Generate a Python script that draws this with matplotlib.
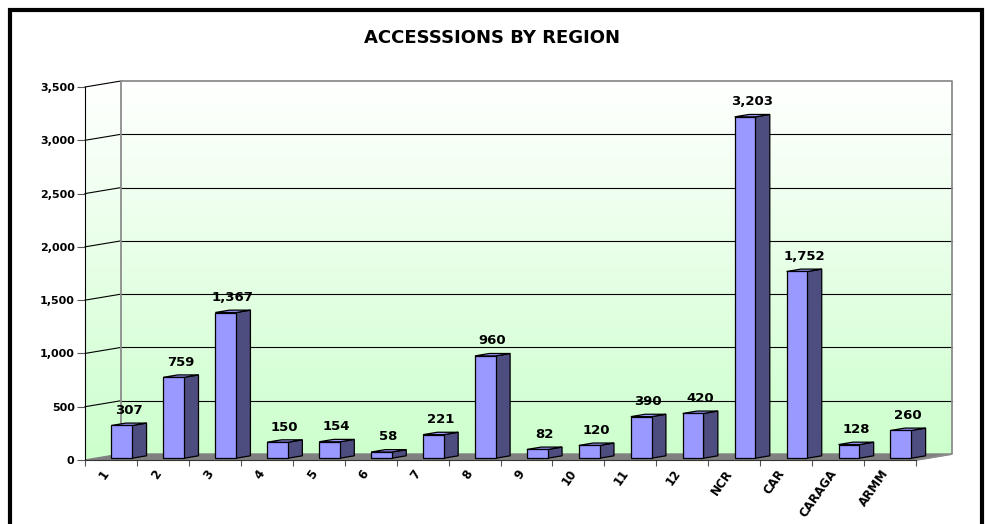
import matplotlib
matplotlib.use('Agg')  # no display

import matplotlib.pyplot as plt
import numpy as np
from matplotlib.patches import Polygon, Rectangle
from matplotlib.colors import LinearSegmentedColormap

# data
regions = ['1', '2', '3', '4', '5', '6', '7', '8', '9', '10', '11', '12',
           'NCR', 'CAR', 'CARAGA', 'ARMM']
accessions = [307, 759, 1367, 150, 154, 58, 221, 960, 82, 120, 390, 420,
              3203, 1752, 128, 260]
y_ticks = [0, 500, 1000, 1500, 2000, 2500, 3000, 3500]

W, H = 985, 524
fig = plt.figure(figsize=(W / 100, H / 100), dpi=100)

# axes box = front plane of the 3d chart
ax = fig.add_axes([85 / W, 64 / H, 831 / W, 373 / H])
n = len(regions)
ymax = y_ticks[-1]

# depth of the box in data units (about 36 px right, 6 px up)
dx = 36 / 831 * n
dy = 6 / 373 * ymax

# walls with white -> light green gradient
wall = Polygon([(0, 0), (dx, dy), (n + dx, dy), (n + dx, ymax + dy),
                (dx, ymax + dy), (0, ymax)], closed=True,
               facecolor='none', edgecolor='none', transform=ax.transData)
ax.add_patch(wall)
cmap = LinearSegmentedColormap.from_list('wall', ['#ccffcc', '#ffffff'])
grad = np.linspace(0, 1, 256).reshape(-1, 1)
im = ax.imshow(grad, cmap=cmap, origin='lower', aspect='auto',
               extent=[0, n + dx, 0, ymax + dy], zorder=0,
               interpolation='bilinear')
im.set_clip_path(wall)
im.set_clip_box(fig.bbox)

# floor
floor = Polygon([(0, 0), (n, 0), (n + dx, dy), (dx, dy)], closed=True,
                facecolor='#808080', edgecolor='#808080', lw=1,
                zorder=1, clip_on=False)
ax.add_patch(floor)

# gridlines on side and back wall
for v in y_ticks[1:]:
    ax.plot([0, dx], [v, v + dy], color='black', lw=0.8, zorder=1,
            clip_on=False)
    if v < ymax:
        ax.plot([dx, n + dx], [v + dy, v + dy], color='black', lw=0.8,
                zorder=1, clip_on=False)

# back wall outline
ax.plot([dx, dx, n + dx, n + dx, n], [dy, ymax + dy, ymax + dy, dy, 0],
        color='#8c8c8c', lw=1.3, zorder=1, clip_on=False)

# bars as 3d boxes
bw = 0.4
d0, d1 = 0.3, 0.7
bdx = (d1 - d0) * dx
bdy = (d1 - d0) * dy
for i, v in enumerate(accessions):
    x0 = i + 0.5 - bw / 2 + d0 * dx
    x1 = x0 + bw
    y0 = d0 * dy
    front = [(x0, y0), (x1, y0), (x1, y0 + v), (x0, y0 + v)]
    side = [(x1, y0), (x1 + bdx, y0 + bdy), (x1 + bdx, y0 + v + bdy),
            (x1, y0 + v)]
    top = [(x0, y0 + v), (x1, y0 + v), (x1 + bdx, y0 + v + bdy),
           (x0 + bdx, y0 + v + bdy)]
    for pts, fc in [(side, '#4d4d80'), (top, '#9999ff'), (front, '#9999ff')]:
        ax.add_patch(Polygon(pts, closed=True, facecolor=fc,
                             edgecolor='black', lw=0.9, zorder=3,
                             clip_on=False))
    ax.annotate(f'{v:,}', (i + 0.5 + 0.5 * dx, v + 0.5 * dy),
                xytext=(0, 7.5), textcoords='offset points',
                ha='center', va='baseline', fontsize=9.5, fontweight='bold',
                zorder=4)

ax.set_xlim(0, n)
ax.set_ylim(0, ymax)

# axes styling
for s in ['top', 'right']:
    ax.spines[s].set_visible(False)
ax.spines['left'].set_color('black')
ax.spines['bottom'].set_color('#333333')
ax.spines['left'].set_zorder(2)
ax.spines['bottom'].set_zorder(2)

ax.set_yticks(y_ticks, labels=[f'{v:,}' for v in y_ticks])
ax.tick_params(axis='y', length=6, width=0.8, color='#555555', pad=1.5,
               labelsize=8)
for lab in ax.get_yticklabels():
    lab.set_fontweight('bold')

ax.set_xticks(np.arange(n + 1))
ax.set_xticklabels([])
ax.tick_params(axis='x', which='major', length=4, width=0.8, color='#555555')
ax.set_xticks(np.arange(n) + 0.42, labels=regions, minor=True)
ax.tick_params(axis='x', which='minor', length=0, pad=8, labelsize=8.5)
for lab in ax.get_xticklabels(minor=True):
    lab.set_rotation(55)
    lab.set_ha('right')
    lab.set_va('center')
    lab.set_rotation_mode('anchor')
    lab.set_fontweight('bold')

fig.text(492 / W, 1 - 38 / H, 'ACCESSSIONS BY REGION', ha='center',
         va='center', fontsize=13, fontweight='bold')

# outer frame (bottom edge runs off the image)
fig.add_artist(Rectangle((9.5 / W, -0.05), 972 / W, 1.05 - 9.5 / H,
                         transform=fig.transFigure, facecolor='none',
                         edgecolor='black', lw=3))

fig.savefig('out.png', dpi=100)
plt.close(fig)
